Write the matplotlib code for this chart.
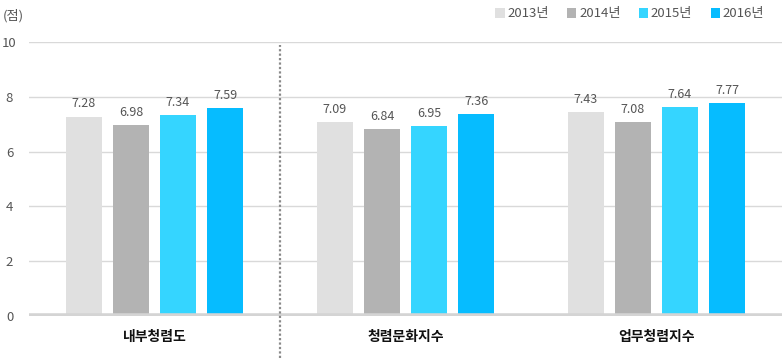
import matplotlib
matplotlib.use("Agg")
import matplotlib.pyplot as plt
from matplotlib.patches import Patch
import numpy as np

plt.rcParams['font.family'] = ['Noto Sans CJK KR', 'DejaVu Sans']

categories = ['내부청렴도', '청렴문화지수', '업무청렴지수']
years = ['2013년', '2014년', '2015년', '2016년']
values = {
    '2013년': [7.28, 7.09, 7.43],
    '2014년': [6.98, 6.84, 7.08],
    '2015년': [7.34, 6.95, 7.64],
    '2016년': [7.59, 7.36, 7.77],
}
colors = ['#e0e0e0', '#b3b3b3', '#35d5ff', '#06bcff']
yticks = [0, 2, 4, 6, 8, 10]

fig = plt.figure(figsize=(7.82, 3.6), dpi=100)
ax = fig.add_axes([29/782, 44/360, 1 - 29/782, 274/360])

x = np.arange(len(categories))
width = 0.144
step = 0.1875
for i, (yr, c) in enumerate(zip(years, colors)):
    off = (i - 1.5) * step
    ax.bar(x + off, values[yr], width=width, color=c, zorder=3)
    for xi, v in zip(x + off, values[yr]):
        ax.text(xi, v + 0.22, f'{v:.2f}', ha='center', va='bottom',
                fontsize=9, color='#555555', zorder=4)

ax.set_xlim(-0.5, 2.5)
ax.set_ylim(0, 10)
ax.set_yticks(yticks)
ax.set_yticklabels([str(t) for t in yticks], fontsize=9.5, color='#555555')
ax.tick_params(axis='y', length=0, pad=14)
ax.set_xticks([])
for t in ax.get_yticklabels():
    t.set_horizontalalignment('center')
for yv in yticks[1:]:
    ax.axhline(yv, color='#d9d9d9', lw=1, zorder=1)
ax.axhline(0, color='#d4d4d4', lw=4, zorder=5)
for s in ax.spines.values():
    s.set_visible(False)

# dotted separator between first and second group
ax.plot([0.5, 0.5], [-0.153, 0.989], transform=ax.get_xaxis_transform(),
        color='#8a8a8a', lw=1.6, ls=(0, (1, 1)), clip_on=False, zorder=6)

for xi, cat in zip(x, categories):
    ax.text(xi, -0.077, cat, transform=ax.get_xaxis_transform(), ha='center',
            va='center', fontsize=10, fontweight='bold', color='#111111')

fig.text(3/782, 1 - 16/360, '(점)', fontsize=9.5, color='#555555', va='center', ha='left')

handles = [Patch(facecolor=c, edgecolor='none') for c in colors]
fig.legend(handles, years, loc='center right', bbox_to_anchor=(1 - 6/782, 1 - 14/360),
           ncol=4, frameon=False, fontsize=9.5, handlelength=0.7, handleheight=0.7,
           handletextpad=0.2, columnspacing=1.4, labelcolor='#555555')

fig.savefig('out.png', dpi=100)
